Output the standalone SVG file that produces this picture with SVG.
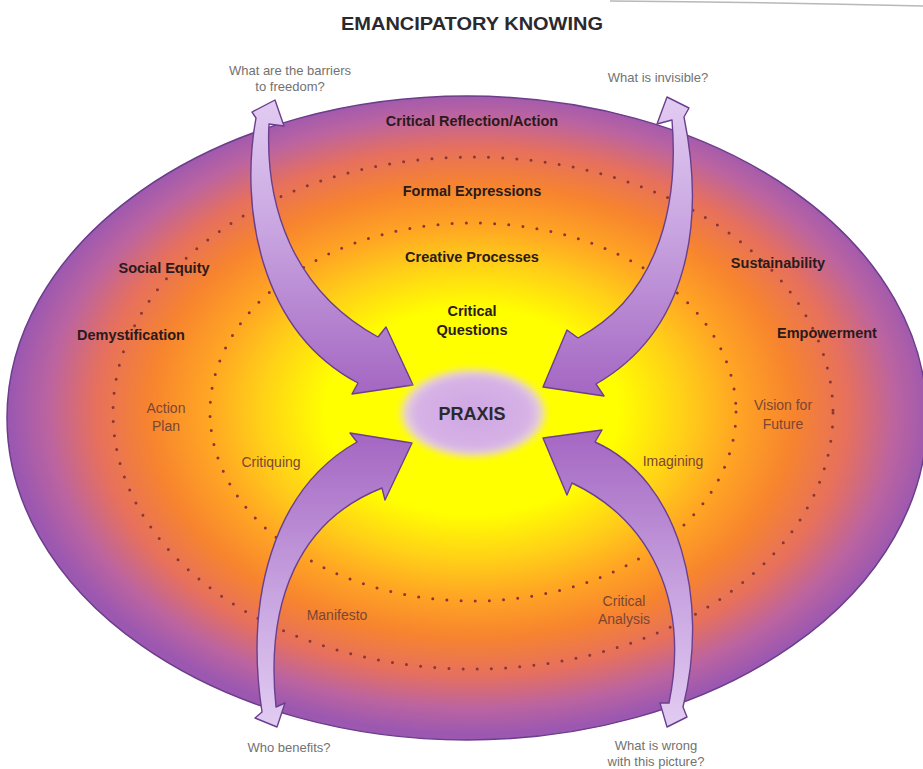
<svg xmlns="http://www.w3.org/2000/svg" width="923" height="769" viewBox="0 0 923 769">
  <defs>
    <!-- warm core fading out to a violet rim -->
    <radialGradient id="fieldGrad" cx="0.505" cy="0.49" r="0.5">
      <stop offset="0" stop-color="#ffff00"/>
      <stop offset="0.32" stop-color="#ffff00"/>
      <stop offset="0.46" stop-color="#ffd018"/>
      <stop offset="0.58" stop-color="#ffa424"/>
      <stop offset="0.7" stop-color="#f7842e"/>
      <stop offset="0.82" stop-color="#e6705e"/>
      <stop offset="0.92" stop-color="#bc64a0"/>
      <stop offset="1" stop-color="#9c58b0"/>
    </radialGradient>
    <radialGradient id="praxisGrad" cx="0.5" cy="0.5" r="0.5">
      <stop offset="0" stop-color="#cfa6e2"/>
      <stop offset="0.75" stop-color="#d6b2e6"/>
      <stop offset="0.9" stop-color="#e8d0d8"/>
      <stop offset="1" stop-color="#f8f070" stop-opacity="0"/>
    </radialGradient>
    <linearGradient id="arrowDown" x1="0" y1="0" x2="0" y2="1">
      <stop offset="0" stop-color="#e2ccf2"/>
      <stop offset="0.45" stop-color="#c8a4e0"/>
      <stop offset="1" stop-color="#a466c2"/>
    </linearGradient>
    <linearGradient id="arrowUp" x1="0" y1="1" x2="0" y2="0">
      <stop offset="0" stop-color="#e2ccf2"/>
      <stop offset="0.45" stop-color="#c8a4e0"/>
      <stop offset="1" stop-color="#a466c2"/>
    </linearGradient>
    <filter id="soft" x="-20%" y="-20%" width="140%" height="140%">
      <feGaussianBlur stdDeviation="3"/>
    </filter>
    <style>
      .ring { fill: none; stroke: #8a3636; stroke-width: 3; stroke-linecap: round; stroke-dasharray: 0 14.2; }
      .arrow { stroke: #6a3f8e; stroke-width: 1.4; stroke-linejoin: round; }
      .bold { font-family: "Liberation Sans", Arial, sans-serif; font-weight: bold; font-size: 14.5px; fill: #2b1a1c; text-anchor: middle; }
      .soft { font-family: "Liberation Sans", Arial, sans-serif; font-size: 14px; fill: #7c4634; text-anchor: middle; }
      .ask { font-family: "Liberation Sans", Arial, sans-serif; font-size: 13px; fill: #727272; text-anchor: middle; }
      .title { font-family: "Liberation Sans", Arial, sans-serif; font-weight: bold; font-size: 18px; fill: #2a2a2e; text-anchor: middle; }
    </style>
  </defs>

  <rect width="923" height="769" fill="#ffffff"/>
  <path d="M 610 1 Q 760 2 923 6" fill="none" stroke="#b8b8b8" stroke-width="1.5"/>

  <g id="title">
    <text class="title" x="472" y="30" textLength="262" lengthAdjust="spacingAndGlyphs">EMANCIPATORY KNOWING</text>
  </g>

  <!-- main field -->
  <g id="field">
    <ellipse cx="467" cy="418" rx="460" ry="322" fill="url(#fieldGrad)" stroke="#6b3d8a" stroke-width="1.5"/>
  </g>

  <!-- dotted rings -->
  <g id="rings">
    <ellipse class="ring" cx="473" cy="413" rx="360" ry="256"/>
    <ellipse class="ring" cx="473" cy="412" rx="263" ry="189"/>
  </g>

  <!-- ring labels -->
  <g id="outer-band">
    <text class="bold" x="472" y="126">Critical Reflection/Action</text>
    <text class="bold" x="164" y="273">Social Equity</text>
    <text class="bold" x="131" y="340">Demystification</text>
    <text class="bold" x="778" y="268">Sustainability</text>
    <text class="bold" x="827" y="338">Empowerment</text>
  </g>
  <g id="middle-band">
    <text class="bold" x="472" y="196">Formal Expressions</text>
    <text class="soft" x="166" y="413">Action</text>
    <text class="soft" x="166" y="431">Plan</text>
    <text class="soft" x="783" y="410">Vision for</text>
    <text class="soft" x="783" y="429">Future</text>
    <text class="soft" x="337" y="620">Manifesto</text>
    <text class="soft" x="624" y="606">Critical</text>
    <text class="soft" x="624" y="624">Analysis</text>
  </g>
  <g id="inner-band">
    <text class="bold" x="472" y="262">Creative Processes</text>
    <text class="soft" x="271" y="467">Critiquing</text>
    <text class="soft" x="673" y="466">Imagining</text>
  </g>
  <g id="core">
    <text class="bold" x="472" y="316">Critical</text>
    <text class="bold" x="472" y="335">Questions</text>
  </g>

  <!-- double-headed curved arrows -->
  <g id="connectors">
    <path id="arrow-barriers" class="arrow" fill="url(#arrowDown)"
      d="M 256 118 C 240 205 258 330 358 383 L 352 394 L 413 385 L 386 327 L 378 337 C 292 290 265 205 269 124 L 284 126 L 275 100 L 252 112 Z"/>
    <path id="arrow-invisible" class="arrow" fill="url(#arrowDown)"
      d="M 672 120 C 680 220 650 300 578 338 L 567 330 L 543 387 L 604 396 L 596 384 C 690 330 705 220 684 117 L 689 108 L 667 97 L 657 124 Z"/>
    <path id="arrow-benefits" class="arrow" fill="url(#arrowUp)"
      d="M 357 442 C 272 490 245 600 262 712 L 255 718 L 277 727 L 285 703 L 276 707 C 265 600 300 520 382 488 L 385 500 L 412 443 L 350 433 Z"/>
    <path id="arrow-wrong" class="arrow" fill="url(#arrowUp)"
      d="M 595 442 C 680 480 710 600 683 707 L 687 717 L 667 727 L 660 703 L 669 703 C 690 600 650 520 572 483 L 567 495 L 543 438 L 602 430 Z"/>
  </g>

  <g id="praxis">
    <ellipse cx="473" cy="413" rx="76" ry="46" fill="url(#praxisGrad)" filter="url(#soft)"/>
    <text class="title" x="472" y="420">PRAXIS</text>
  </g>

  <!-- questions outside the field -->
  <g id="questions">
    <text class="ask" x="290" y="75">What are the barriers</text>
    <text class="ask" x="290" y="91">to freedom?</text>
    <text class="ask" x="658" y="82">What is invisible?</text>
    <text class="ask" x="289" y="752">Who benefits?</text>
    <text class="ask" x="656" y="750">What is wrong</text>
    <text class="ask" x="656" y="766">with this picture?</text>
  </g>
</svg>
